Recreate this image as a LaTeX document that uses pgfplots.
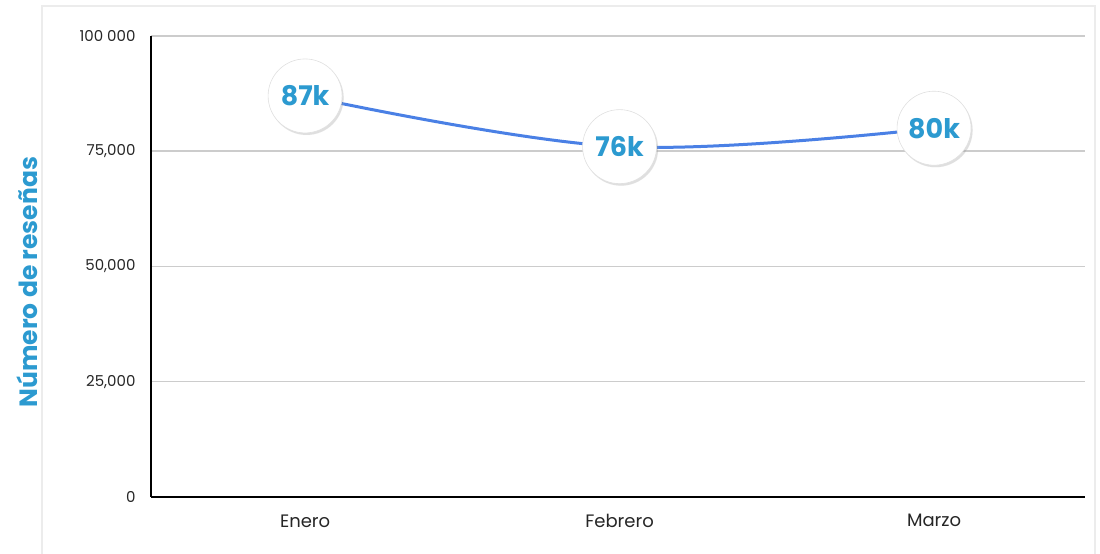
\documentclass[border=0pt]{standalone}
\usepackage{pgfplots}
\pgfplotsset{compat=1.18}
\usepackage{fontspec}
\setmainfont{Poppins}[BoldFont={Poppins Bold}]
\usetikzlibrary{shadows}
\definecolor{linec}{RGB}{74,128,229}
\definecolor{txtc}{RGB}{44,154,208}
\definecolor{gridc}{RGB}{204,204,204}
\definecolor{framec}{RGB}{236,236,236}
\begin{document}
\begin{tikzpicture}[x=1pt,y=1pt]
\useasboundingbox (0,0) rectangle (1100,554);
\draw[framec, line width=1.5pt] (42,0) -- (42,548) -- (1095,548) -- (1095,0);
\begin{axis}[
  at={(151pt,57pt)}, anchor=south west,
  scale only axis, width=934pt, height=461pt,
  xmin=-0.49, xmax=2.48, ymin=0, ymax=100000,
  clip=false, scaled y ticks=false,
  axis x line*=bottom, axis y line*=left,
  axis line style={black, line width=1.5pt},
  x axis line style={-}, y axis line style={-},
  xtick={0,1,2}, xticklabels={Enero,Febrero,Marzo},
  ytick={0,25000,50000,75000,100000},
  yticklabels={0,{25,000},{50,000},{75,000},{100 000}},
  major tick length=0pt,
  ymajorgrids, grid style={gridc, line width=1.5pt},
  xticklabel style={font=\fontsize{18}{20}\selectfont, text=black!85, yshift=-14pt},
  yticklabel style={font=\fontsize{15}{17}\selectfont, text=black!85, xshift=-12pt},
  ylabel={Número de reseñas},
  every axis y label/.style={at={(axis description cs:-0.1328,0.466)}, rotate=90, anchor=center,
     font=\fontsize{25}{27}\selectfont\bfseries, text=txtc},
  nodes near coords,
  point meta=explicit symbolic,
  every node near coord/.append style={
     circle, fill=white, draw=black!12, line width=0.6pt, minimum size=74pt, inner sep=0pt,
     anchor=center, drop shadow={opacity=0.25, shadow xshift=1.5pt, shadow yshift=-2pt},
     font=\fontsize{27}{29}\selectfont\bfseries, text=txtc},
]
\addplot[linec, line width=3pt, smooth, tension=0.6, mark=none] table[meta=lab] {
x y lab
0 87000 87k
1 76000 76k
2 80000 80k
};
\end{axis}
\end{tikzpicture}
\end{document}
